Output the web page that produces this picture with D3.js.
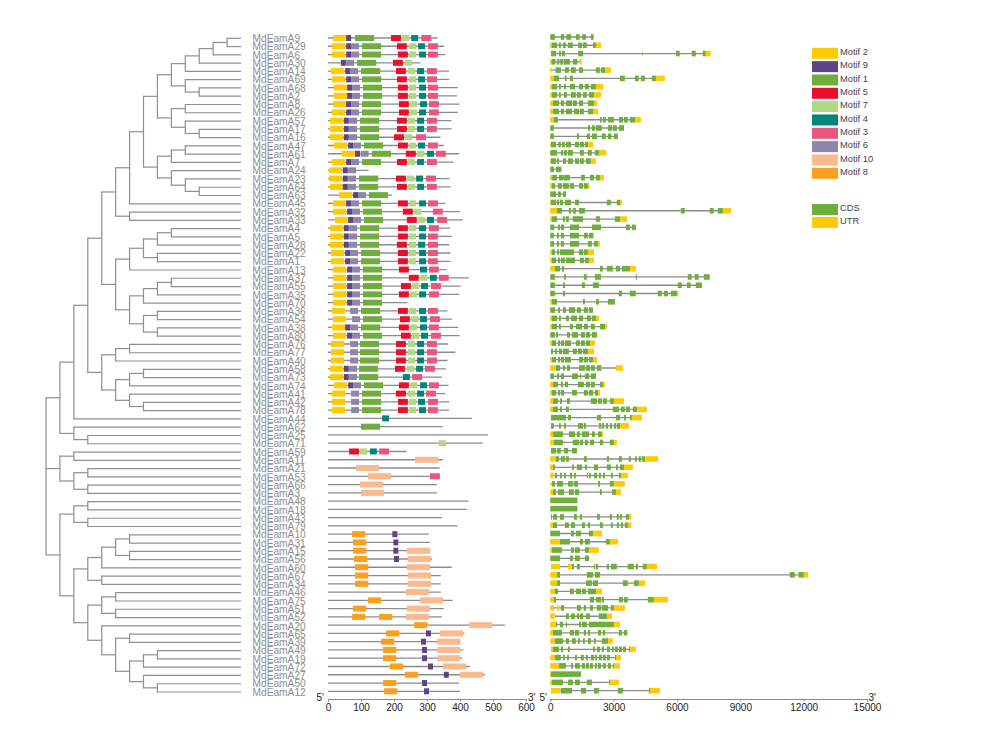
<!DOCTYPE html>
<html>
<head>
<meta charset="utf-8">
<script src="https://cdn.jsdelivr.net/npm/d3@7/dist/d3.min.js"></script>
<style>
html,body{margin:0;padding:0;background:#fff}
svg{display:block;font-family:"Liberation Sans",Arial,sans-serif}
</style>
</head>
<body>
<svg id="chart" width="981" height="745"></svg>
<script>
const geneNames = ["A9","A29","A6","A30","A14","A69","A68","A2","A8","A26","A57","A17","A16","A47","A61","A7","A24","A23","A64","A63","A45","A32","A33","A4","A5","A28","A22","A1","A13","A37","A55","A35","A70","A36","A54","A38","A80","A76","A77","A40","A58","A73","A74","A41","A42","A78","A44","A62","A25","A71","A59","A11","A21","A53","A66","A3","A48","A18","A43","A79","A10","A31","A15","A56","A60","A67","A34","A46","A75","A51","A52","A20","A65","A39","A49","A19","A72","A27","A50","A12"];

const treeShape = [
 [
  [
   [
    [
     [
      [
       [
        [
         [
          [[[[["A9","A29"],"A6"],"A30"],"A14"],["A69",["A68","A2"]]],
          [["A8","A26"],["A57",["A17","A16"]]]
         ],
         [[["A47","A61"],"A7"],["A24",["A23",["A64","A63"]]]]
        ],
        "A45"
       ],
       ["A32","A33"]
      ],
      [
       [[[["A4","A5"],"A28"],["A22","A1"]],"A13"],
       [[[["A37","A55"],"A35"],"A70"],[["A36","A54"],["A38","A80"]]]
      ]
     ],
     [
      [["A76","A77"],"A40"],
      [[["A58","A73"],"A74"],["A41",["A42","A78"]]]
     ]
    ],
    "A44"
   ],
   ["A62",["A25","A71"]]
  ]
 ][0],
 [["A59","A11"],[["A21","A53"],["A66","A3"]]],
 [
  [["A48","A18"],["A43","A79"]],
  [
   [[[["A10","A31"],["A15","A56"]],"A60"],["A67","A34"]],
   [
    [["A46","A75"],["A51","A52"]],
    ["A20",[["A65","A39"],[[["A49","A19"],"A72"],["A27",["A50","A12"]]]]]
   ]
  ]
 ]
];

// protein lengths (aa), same order as geneNames
const proteinLengths = [332,352,355,280,367,367,393,391,398,394,374,375,341,351,398,380,123,368,372,194,355,400,408,370,375,367,371,371,360,427,403,398,240,362,376,395,399,364,386,362,357,345,365,355,367,367,436,348,485,469,238,348,338,339,330,330,426,421,345,392,306,309,311,315,375,342,342,342,378,351,345,536,414,401,410,407,430,475,397,400];

const motifOrder = [2,9,1,5,7,4,3,6,10,8];
const motifLabels = ["Motif 2","Motif 9","Motif 1","Motif 5","Motif 7","Motif 4","Motif 3","Motif 6","Motif 10","Motif 8"];
const motifColors = ["#ffcb05","#5c4686","#6fae3c","#e8102c","#b1d884","#00857b","#ea5680","#8e87a9","#fbb98d","#fb9f1d"];
const motifSizes = [40,15,58,30,22,21,30,24,70,40]; // aa, in motifOrder order

// [motif, start aa] per gene
const motifHits = [
[[2,15],[9,55],[1,82],[5,191],[7,224],[4,252],[3,283]],
[[2,12],[9,55],[6,70],[1,103],[5,209],[7,245],[4,273],[3,303]],
[[2,12],[9,55],[6,70],[1,103],[5,212],[7,245],[4,276],[3,303]],
[[9,39],[6,55],[1,88],[5,197],[7,233]],
[[2,9],[9,52],[6,67],[1,100],[5,206],[7,242],[4,270],[3,300]],
[[2,12],[9,55],[6,70],[1,103],[5,209],[7,245],[4,273],[3,300]],
[[2,18],[9,58],[6,73],[1,106],[5,212],[7,245],[4,276],[3,303]],
[[2,18],[9,58],[6,73],[1,106],[5,212],[7,245],[4,276],[3,303]],
[[2,15],[9,55],[6,70],[1,103],[5,215],[7,248],[4,279],[3,306]],
[[2,12],[9,55],[6,70],[1,103],[5,215],[7,248],[4,276],[3,306]],
[[2,6],[9,48],[6,64],[1,97],[5,209],[7,242],[4,270],[3,300]],
[[2,6],[9,48],[6,64],[1,97],[5,209],[7,242],[4,270],[3,300]],
[[2,6],[9,48],[6,64],[1,97],[5,200],[7,233],[3,267]],
[[2,18],[9,61],[6,76],[1,109],[5,212],[7,245],[4,273],[3,303]],
[[2,42],[9,82],[6,99],[1,133],[5,236],[7,270],[4,300],[3,327]],
[[2,12],[9,55],[6,70],[1,103],[5,209],[7,242],[4,270],[3,300]],
[[2,3],[9,45],[6,61]],
[[2,3],[9,45],[6,61],[1,94],[5,206],[7,239],[4,267],[3,297]],
[[2,6],[9,45],[6,61],[1,94],[5,209],[7,242],[4,270],[3,300]],
[[2,33],[9,76],[6,91],[1,124]],
[[2,15],[9,55],[6,70],[1,103],[5,212],[7,245],[4,276],[3,303]],
[[2,15],[9,58],[6,73],[1,106],[5,227],[7,261],[3,318]],
[[2,21],[9,61],[6,76],[1,109],[5,239],[7,273],[4,300],[3,331]],
[[2,6],[9,48],[6,64],[1,97],[5,212],[7,245],[4,276],[3,306]],
[[2,6],[9,48],[6,64],[1,97],[5,212],[7,245],[4,276],[3,303]],
[[2,6],[9,48],[6,64],[1,97],[5,209],[7,245],[4,273],[3,303]],
[[2,9],[9,52],[6,67],[1,100],[5,212],[7,245],[4,276],[3,303]],
[[2,9],[9,52],[6,67],[1,100],[5,212],[7,245],[4,276],[3,303]],
[[2,15],[9,58],[6,73],[1,106],[5,215],[4,279],[3,306]],
[[2,15],[9,58],[6,73],[1,106],[5,245],[7,279],[4,309],[3,336]],
[[2,15],[9,58],[6,73],[1,106],[5,221],[7,255],[4,282],[3,312]],
[[2,15],[9,58],[6,73],[1,106],[5,215],[7,248],[4,276],[3,306]],
[[2,15],[9,58],[6,73],[1,106]],
[[2,12],[6,67],[1,100],[5,212],[7,245],[4,276],[3,303]],
[[2,15],[6,73],[1,106],[5,218],[7,252],[4,279],[3,309]],
[[2,12],[9,52],[6,67],[1,100],[5,215],[7,248],[4,279],[3,306]],
[[2,15],[9,58],[6,73],[1,106],[5,221],[7,255],[4,282],[3,312]],
[[2,9],[6,67],[1,97],[5,206],[7,242],[4,270],[3,300]],
[[2,9],[6,67],[1,97],[5,206],[7,242],[4,270],[3,300]],
[[2,9],[6,67],[1,97],[5,206],[7,242],[4,270],[3,300]],
[[2,6],[9,48],[6,64],[1,94],[5,203],[7,239],[4,267],[3,294]],
[[2,6],[9,48],[6,64],[1,94],[4,227],[3,255]],
[[2,18],[9,61],[6,76],[1,109],[5,215],[7,248],[4,279],[3,306]],
[[2,12],[6,70],[1,103],[5,206],[7,242],[4,270],[3,297]],
[[2,12],[6,70],[1,103],[5,212],[7,245],[4,273],[3,303]],
[[2,12],[6,70],[1,103],[5,212],[7,245],[4,276],[3,303]],
[[4,164]],
[[1,100]],
[],
[[7,336]],
[[5,64],[7,97],[4,127],[3,155]],
[[10,264]],
[[10,85]],
[[10,121],[3,309]],
[[10,97]],
[[10,100]],
[],[],[],[],
[[8,73],[9,195]],
[[8,76],[9,198]],
[[8,76],[9,198],[10,239]],
[[8,79],[9,200],[10,242]],
[[8,82],[10,239]],
[[8,82],[10,242]],
[[8,82],[10,242]],
[[10,236]],
[[8,121],[10,279]],
[[8,76],[10,239]],
[[8,73],[8,155],[10,236]],
[[8,261],[10,428]],
[[8,176],[9,297],[10,340]],
[[8,161],[9,282],[10,331]],
[[8,167],[9,285],[10,331]],
[[8,167],[9,285],[10,331]],
[[8,188],[9,303],[10,349]],
[[8,233],[9,351],[10,400]],
[[8,167],[9,285]],
[[8,170],[9,291]]
];

// CDS spans in bp per gene
const cdsSpans = [
[[0,220],[500,660],[760,980],[1210,1390],[1510,1690],[1920,2050]],
[[80,320],[410,500],[600,730],[840,1070],[1320,1500],[1550,1730],[2020,2160]],
[[30,280],[410,500],[550,690],[1320,1550],[4350,4370],[5950,6130],[6700,6890],[7220,7360]],
[[60,250],[320,430],[470,600],[630,930],[1070,1280]],
[[250,500],[690,880],[980,1210],[1360,1550],[2160,2350],[2400,2590]],
[[170,410],[690,770],[930,1070],[3300,3530],[4010,4190],[4290,4480],[4810,5000]],
[[80,320],[410,500],[650,740],[930,1170],[1360,1550],[1640,1830],[1920,2160]],
[[80,320],[410,500],[650,790],[980,1210],[1260,1450],[1550,1730],[1830,2070]],
[[130,410],[500,650],[740,1030],[1070,1260],[1360,1550],[1780,2070]],
[[130,410],[500,650],[740,1030],[1120,1360],[1400,1590],[1780,2020]],
[[170,360],[2350,2440],[2490,2630],[2730,3010],[3250,3440],[3490,3670],[3770,4010]],
[[0,170],[1780,1880],[1970,2110],[2160,2440],[2730,2920],[2960,3150],[3250,3490]],
[[0,170],[1260,1360],[1730,1880],[1970,2210],[2440,2630],[2730,2890],[3010,3200]],
[[30,270],[380,500],[550,690],[740,980],[1170,1360],[1400,1590],[1640,1780]],
[[0,320],[500,600],[650,790],[840,1070],[1400,1590],[1780,1970],[2110,2300]],
[[30,270],[320,410],[600,740],[840,1070],[1170,1360],[1400,1590],[1690,1920]],
[[0,170],[270,500],[520,540]],
[[90,320],[410,630],[650,930],[1450,1640],[1880,2070],[2160,2350]],
[[80,220],[360,550],[600,880],[930,1120],[1360,1550],[1590,1780]],
[[0,270],[360,500],[600,740]],
[[30,270],[320,410],[460,600],[690,980],[1170,1360],[2680,2870],[3150,3300]],
[[320,550],[880,980],[1070,1210],[1360,1640],[6180,6370],[7550,7740],[7930,8170]],
[[80,320],[600,690],[740,880],[1070,1550],[2160,2350],[3060,3300]],
[[0,190],[360,460],[500,650],[930,1360],[1970,2400],[3580,3770],[3860,4050]],
[[0,170],[320,410],[500,650],[930,1360],[1590,1780],[1830,2020]],
[[0,170],[320,410],[500,650],[930,1360],[1780,1970],[2070,2260]],
[[80,220],[320,410],[460,690],[690,1120],[1360,1550],[1590,1780]],
[[80,270],[360,460],[500,690],[740,1170],[1400,1590],[1640,1830]],
[[220,460],[550,650],[2350,2490],[2680,2960],[3110,3300],[3390,3580],[3580,3770]],
[[0,220],[650,740],[1590,1730],[2110,2400],[4050,4100],[6510,6700],[6840,7030],[7270,7550]],
[[0,220],[600,690],[1500,1640],[2020,2300],[6040,6230],[6470,6650],[6890,7180]],
[[0,220],[600,690],[3250,3390],[3770,4050],[5090,5280],[5380,5570],[5710,5990]],
[[80,320],[1550,1640],[2160,2300],[2730,3060]],
[[0,220],[360,460],[600,740],[880,1170],[1260,1450],[1590,1780],[1830,2020]],
[[80,320],[410,500],[740,880],[980,1260],[1360,1550],[1730,1920],[1970,2160]],
[[80,320],[410,500],[930,1070],[1210,1500],[1590,1780],[1920,2110],[2350,2590]],
[[0,220],[270,360],[790,930],[1030,1310],[1450,1640],[1690,1880],[1970,2210]],
[[80,270],[360,460],[500,650],[690,980],[1210,1400],[1450,1640],[1690,1880]],
[[30,130],[220,320],[410,550],[600,880],[1070,1260],[1310,1500],[1550,1780]],
[[80,270],[360,460],[500,650],[690,980],[1360,1550],[1590,1780],[1830,2020]],
[[270,460],[600,690],[790,930],[1360,1640],[1690,1880],[1920,2110],[2210,2400]],
[[0,170],[320,410],[500,650],[1030,1310],[1400,1450],[1640,1830],[1920,2160]],
[[130,360],[500,600],[690,840],[1310,1590],[1690,1880],[1920,2110],[2350,2490]],
[[80,270],[360,460],[500,650],[1030,1260],[1590,1780],[1830,2020],[2110,2260]],
[[130,360],[460,550],[790,930],[1920,2210],[2260,2440],[2490,2680],[2820,3010]],
[[130,360],[460,550],[740,880],[2960,3250],[3340,3530],[3580,3770],[3910,4100]],
[[30,740],[840,980],[2210,2400],[3110,3300],[3490,3580],[3770,3860]],
[[30,170],[410,500],[650,740],[1310,1550],[1590,1690],[2300,2400],[2440,2540],[2630,2730],[2820,2920],[3010,3110],[3150,3300]],
[[130,600],[880,1170],[1260,1400],[1500,1830],[1970,2110],[2260,2440]],
[[170,600],[1070,1360],[1400,1550],[1640,1780],[1880,2070],[2350,2490],[2820,3010]],
[[30,270],[320,500],[650,840],[1030,1260]],
[[270,410],[500,690],[740,880],[1590,1730],[2680,2780],[3250,3390],[3720,3820],[4010,4100],[4190,4290],[4340,4480]],
[[130,220],[1030,1120],[1260,1500],[1640,1730],[2070,2260],[2680,2870],[3110,3200],[3300,3490]],
[[220,320],[460,550],[650,740],[930,1030],[1120,1210],[1730,1780],[1830,1920],[2070,2210],[2300,2400],[2490,2590],[2870,2960],[3250,3340]],
[[80,220],[320,600],[840,1070],[1120,1310],[2260,2350],[2820,3010]],
[[130,270],[360,650],[880,1120],[1170,1360],[2350,2440],[2920,3110]],
[[0,1280]],
[[0,1280]],
[[30,80],[130,320],[460,650],[1120,1260],[1400,1500],[2210,2350],[2820,2920],[3150,3250],[3300,3390],[3580,3720]],
[[130,320],[690,880],[980,1170],[1500,1640],[1780,1880],[2350,2490],[2870,2960],[3150,3250],[3340,3440],[3530,3670]],
[[0,460],[980,1120],[1210,1450],[1830,2020]],
[[460,930],[1400,1550],[1640,1880],[2630,2820]],
[[80,550],[980,1120],[1170,1400],[1640,1830]],
[[0,460],[930,1070],[1170,1400],[1640,1830]],
[[1030,1120],[1260,1400],[2070,2110],[2160,2260],[2680,2780],[2870,3150],[3670,3960],[4050,4150],[4380,4570]],
[[320,460],[1730,2020],[2110,2350],[11340,11580],[11760,12000]],
[[320,460],[1690,1970],[2020,2260],[3440,3670],[3960,4190]],
[[220,360],[930,1120],[1210,1450],[1500,1690],[1780,2160]],
[[170,270],[1880,2070],[2160,2400],[2440,2540],[3250,3440],[3490,3670],[4620,4900]],
[[500,650],[1260,1450],[1590,1690],[1880,2020],[2210,2400],[2440,2730],[2870,3010]],
[[740,880],[980,1170],[1260,1360],[1400,1550],[1690,1880],[2300,2680]],
[[270,320],[460,600],[740,790],[1360,1450],[1500,1730],[1830,3010]],
[[130,550],[930,1120],[1170,1360],[1590,1690],[1780,1880],[2260,2400],[2490,2590],[3250,3390],[3490,3630]],
[[220,600],[740,880],[1030,1210],[1310,1400],[1550,1640],[1780,1920],[2070,2160],[2440,2630],[2630,2730]],
[[130,410],[500,600],[840,930],[2020,2110],[2210,2350],[2440,2540],[2680,2820],[2920,3010],[3060,3200],[3250,3390],[3440,3580],[3720,3770]],
[[220,500],[600,690],[790,880],[1170,1260],[1450,1590],[1690,1780],[1920,2070],[2110,2210],[2300,2440],[2490,2630],[2680,2820],[3060,3110]],
[[410,740],[980,1070],[1170,1400],[1500,1640],[1690,1830],[1880,2020],[2110,2210],[2260,2400],[2490,2630],[2730,2870],[2960,3010]],
[[30,1450]],
[[80,600],[840,1070],[1170,1400],[1730,1970],[2780,2820]],
[[500,1030],[1450,1690],[2070,2300],[3200,3440],[4670,4720]]
];

// UTR spans in bp per gene
const utrSpans = [
[],
[[0,80],[2160,2400]],
[[7360,7590]],
[[0,60],[1390,1480]],
[[0,50],[2590,2870]],
[[0,170],[5000,5420]],
[[0,80],[2160,2490]],
[[0,80],[2070,2410]],
[[0,130],[2070,2220]],
[[0,130],[2020,2260]],
[[0,170],[4010,4290]],
[],
[],
[[0,30],[1780,2030]],
[[2300,2650]],
[[0,30],[1920,2160]],
[],
[[0,90],[2350,2540]],
[[0,80],[1780,1850]],
[],
[[0,30],[3300,3390]],
[[0,320],[8170,8550]],
[[0,80],[3300,3630]],
[],
[[2020,2070]],
[[2260,2350]],
[[0,80],[1780,2070]],
[[0,80],[1830,2070]],
[[0,220],[3770,4050]],
[],
[],
[[5990,6060]],
[[0,80]],
[],
[[0,80],[2160,2300]],
[[0,80],[2590,2680]],
[],
[[0,80],[1880,2110]],
[[1780,2070]],
[[0,80],[2020,2210]],
[[0,270],[2400,2440],[3110,3440]],
[],
[[0,130],[2490,2590]],
[[0,80],[2260,2350]],
[[0,130],[3010,3490]],
[[0,130],[4100,4570]],
[[3860,4340]],
[[3300,3720]],
[[0,130],[2440,2490]],
[[0,170],[3010,3150]],
[],
[[0,270],[4480,5110]],
[[0,130],[3490,3910]],
[[0,170],[3340,3670]],
[[0,30],[3010,3530]],
[[0,130],[3110,3340]],
[],
[],
[[3720,3820]],
[[0,130],[3670,3820]],
[[2020,2440]],
[[0,460],[2820,3200]],
[[0,80],[1830,2300]],
[],
[[30,460],[840,1030],[4570,5050]],
[[0,320],[12000,12210]],
[[0,320],[4190,4490]],
[[0,220],[2160,2440]],
[[0,170],[4900,5570]],
[[0,170],[320,410],[3010,3530]],
[[0,220],[2680,2920]],
[[0,270],[3010,3300]],
[[0,130],[3630,3660]],
[[0,220],[2730,2960]],
[[30,130],[3770,4050]],
[[0,220],[3110,3340]],
[[0,410],[3010,3300]],
[[0,30]],
[[0,80],[2820,3250]],
[[30,470],[4720,5190]]
];

const structureLabels = ["CDS","UTR"];
const structureColors = ["#6fae3c","#ffcb05"];
const motifTicks = [0,100,200,300,400,500,600];
const structureTicks = [0,3000,6000,9000,12000,15000];

// ---------- layout ----------
const svg = d3.select("#chart");
const rowCount = geneNames.length;
const treeY = d3.scaleLinear().domain([0,rowCount-1]).range([38.3,692]);
const motifY = d3.scaleLinear().domain([0,rowCount-1]).range([38,691.3]);
const geneY = d3.scaleLinear().domain([0,rowCount-1]).range([37,690.7]);
const treeX = d3.scaleLinear().domain([0,14]).range([46,241]);
const motifX = d3.scaleLinear().domain([0,600]).range([328,526]);
const geneX = d3.scaleLinear().domain([0,15000]).range([550.3,867]);
const motifColor = d3.scaleOrdinal().domain(motifOrder).range(motifColors);
const motifSize = d3.scaleOrdinal().domain(motifOrder).range(motifSizes);

// ---------- tree ----------
const root = d3.hierarchy(treeShape, d => Array.isArray(d) ? d : null);
root.eachAfter(n => {
  if (n.children) {
    const a = n.children[0].rowY, b = n.children[n.children.length-1].rowY;
    n.rowY = (a+b)/2;
  } else {
    n.rowY = treeY(geneNames.indexOf(n.data));
  }
  n.colX = n.children ? treeX(n.depth) : treeX(14);
});
const treeG = svg.append("g").attr("fill","none").attr("stroke","#8f8f8f").attr("stroke-width",1.2);
const inner = root.descendants().filter(n => n.children);
treeG.selectAll("line.v").data(inner).join("line").attr("class","v")
  .attr("x1",n=>n.colX).attr("x2",n=>n.colX)
  .attr("y1",n=>n.children[0].rowY-0.6).attr("y2",n=>n.children[n.children.length-1].rowY+0.6);
treeG.selectAll("line.h").data(root.descendants().slice(1)).join("line").attr("class","h")
  .attr("x1",n=>n.parent.colX).attr("x2",n=>n.colX)
  .attr("y1",n=>n.rowY).attr("y2",n=>n.rowY);

// ---------- labels ----------
svg.append("g").attr("opacity",0.99).selectAll("text").data(geneNames).join("text")
  .attr("x",252.5).attr("y",(d,i)=>treeY(i)+3.7)
  .attr("font-size",10.2).attr("fill","#8d8d8d")
  .text(d=>"MdEam"+d);

// ---------- motif panel ----------
const motifRows = svg.append("g").selectAll("g").data(geneNames).join("g")
  .attr("transform",(d,i)=>`translate(0,${motifY(i)})`);
motifRows.append("line")
  .attr("x1",motifX(0)).attr("x2",(d,i)=>motifX(proteinLengths[i]))
  .attr("stroke","#8c8c8c").attr("stroke-width",1.3);
motifRows.selectAll("rect").data((d,i)=>motifHits[i]).join("rect")
  .attr("x",h=>motifX(h[1]))
  .attr("width",h=>motifX(motifSize(h[0]))-motifX(0))
  .attr("y",-3).attr("height",6)
  .attr("fill",h=>motifColor(h[0]));

// ---------- gene structure panel ----------
const geneRows = svg.append("g").selectAll("g").data(geneNames).join("g")
  .attr("transform",(d,i)=>`translate(0,${geneY(i)})`);
geneRows.append("line")
  .attr("x1",(d,i)=>geneX(d3.min(cdsSpans[i].concat(utrSpans[i]),s=>s[0])))
  .attr("x2",(d,i)=>geneX(d3.max(cdsSpans[i].concat(utrSpans[i]),s=>s[1])))
  .attr("stroke","#8c8c8c").attr("stroke-width",1.3);
geneRows.selectAll("rect.u").data((d,i)=>utrSpans[i]).join("rect").attr("class","u")
  .attr("x",s=>geneX(s[0])).attr("width",s=>geneX(s[1])-geneX(s[0]))
  .attr("y",-2.8).attr("height",5.6).attr("fill",structureColors[1]);
geneRows.selectAll("rect.c").data((d,i)=>cdsSpans[i]).join("rect").attr("class","c")
  .attr("x",s=>geneX(s[0])).attr("width",s=>geneX(s[1])-geneX(s[0]))
  .attr("y",-2.8).attr("height",5.6).attr("fill",structureColors[0]);

// ---------- axes ----------
function drawAxis(scale, ticks, left, right) {
  const g = svg.append("g").attr("transform","translate(0,699)")
    .call(d3.axisBottom(scale).tickValues(ticks).tickFormat(d3.format("d")).tickSize(2.5).tickPadding(2.5));
  g.select(".domain").attr("stroke","#8c8c8c").attr("stroke-width",1);
  g.selectAll(".tick line").attr("stroke","#8c8c8c");
  g.selectAll("text").attr("font-size",10).attr("font-family","Liberation Sans, Arial, sans-serif").attr("fill","#222");
  svg.append("text").attr("x",left).attr("y",700.5).attr("font-size",10).attr("fill","#222").text("5'");
  svg.append("text").attr("x",right).attr("y",700.5).attr("font-size",10).attr("fill","#222").text("3'");
}
drawAxis(motifX, motifTicks, 316.5, 528);
drawAxis(geneX, structureTicks, 539.5, 868.5);

// ---------- legends ----------
const legendX = d3.scaleLinear().domain([0,1]).range([812,838]);
const legendY = d3.scalePoint().domain(motifLabels).range([47.8,167.8]);
const legend = svg.append("g");
legend.selectAll("rect").data(motifLabels).join("rect")
  .attr("x",legendX(0)).attr("width",legendX(1)-legendX(0))
  .attr("y",d=>legendY(d)).attr("height",11)
  .attr("fill",(d,i)=>motifColors[i]);
legend.selectAll("text").data(motifLabels).join("text")
  .attr("x",840).attr("y",d=>legendY(d)+7.2)
  .attr("font-size",9.3).attr("fill","#444").text(d=>d);
const legend2Y = d3.scalePoint().domain(structureLabels).range([204,217]);
const legend2 = svg.append("g");
legend2.selectAll("rect").data(structureLabels).join("rect")
  .attr("x",legendX(0)).attr("width",legendX(1)-legendX(0))
  .attr("y",d=>legend2Y(d)).attr("height",11)
  .attr("fill",(d,i)=>structureColors[i]);
legend2.selectAll("text").data(structureLabels).join("text")
  .attr("x",840).attr("y",d=>legend2Y(d)+7.2)
  .attr("font-size",9.3).attr("fill","#444").text(d=>d);
</script>
</body>
</html>
